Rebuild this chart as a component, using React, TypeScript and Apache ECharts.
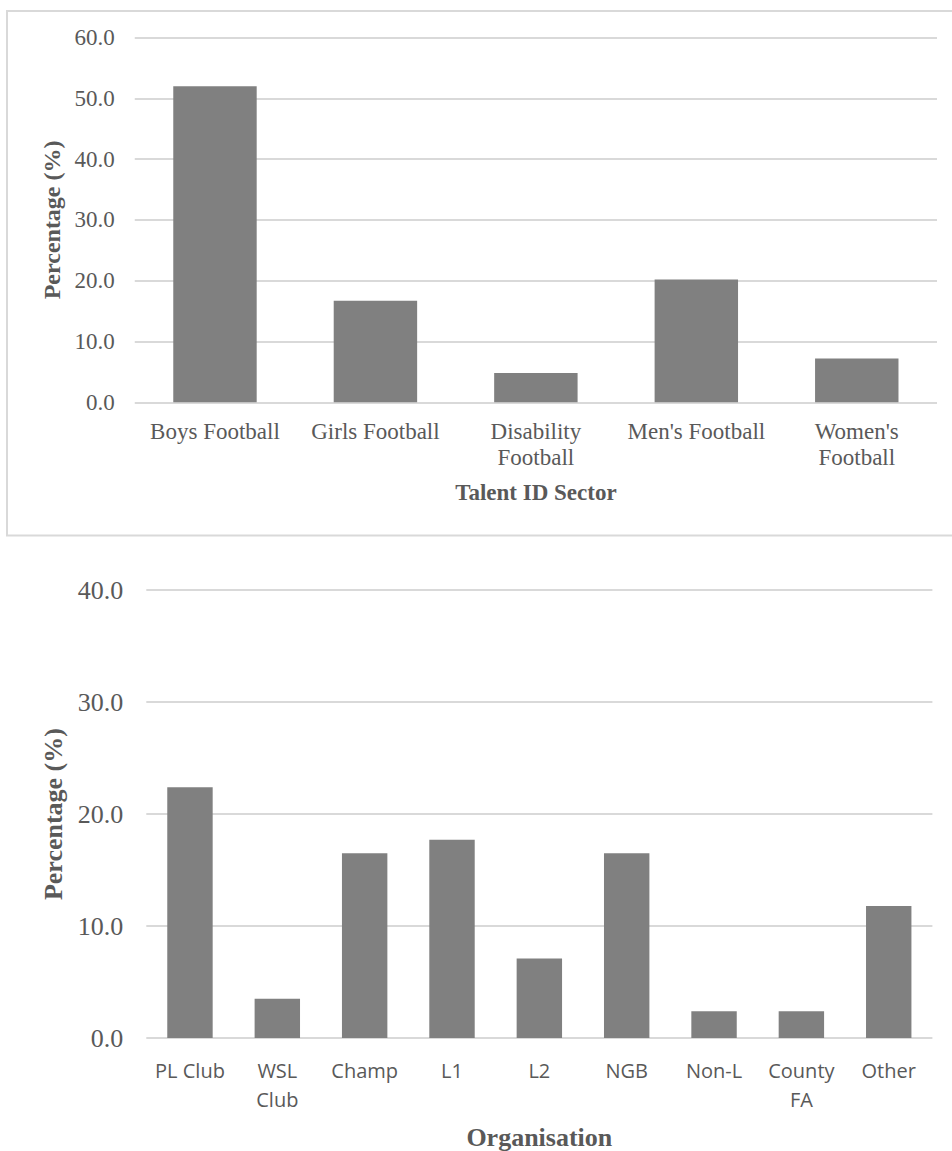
import React, { useEffect, useRef } from "react";
import * as echarts from "echarts";

// Talent ID sector breakdown (upper chart)
const sectorCategories = [
  "Boys Football",
  "Girls Football",
  "Disability\nFootball",
  "Men's Football",
  "Women's\nFootball",
];
const sectorValues = [52.0, 16.7, 4.8, 20.2, 7.2];
const sectorTicks = { min: 0, max: 60, interval: 10 };

// Organisation breakdown (lower chart)
const orgCategories = [
  "PL Club",
  "WSL\nClub",
  "Champ",
  "L1",
  "L2",
  "NGB",
  "Non-L",
  "County\nFA",
  "Other",
];
const orgValues = [22.4, 3.5, 16.5, 17.7, 7.1, 16.5, 2.4, 2.4, 11.8];
const orgTicks = { min: 0, max: 40, interval: 10 };

const SERIF = "'Liberation Serif', 'Times New Roman', serif";
const SANS = "'Open Sans', 'Liberation Sans', sans-serif";
const TEXT = "#595959";
const GRID = "#d9d9d9";
const BAR = "#808080";

export default function App() {
  const ref = useRef<HTMLDivElement>(null);

  useEffect(() => {
    if (!ref.current) return;
    const chart = echarts.init(ref.current, undefined, { renderer: "svg" });

    const fmt = (v: number) => v.toFixed(1);

    chart.setOption({
      animation: false,
      backgroundColor: "#ffffff",
      grid: [
        { left: 134.75, right: 15, top: 37.5, height: 364.8 },
        { left: 146.3, right: 19.6, top: 590.2, height: 449.3 },
      ],
      xAxis: [
        {
          type: "category",
          gridIndex: 0,
          data: sectorCategories,
          axisTick: { show: false },
          axisLine: { show: false },
          axisLabel: {
            interval: 0,
            margin: 16,
            color: TEXT,
            fontFamily: SERIF,
            fontSize: 23,
            lineHeight: 26,
          },
          name: "Talent ID Sector",
          nameLocation: "middle",
          nameGap: 79,
          nameTextStyle: {
            color: TEXT,
            fontFamily: SERIF,
            fontSize: 23,
            fontWeight: "bold",
          },
        },
        {
          type: "category",
          gridIndex: 1,
          data: orgCategories,
          axisTick: { show: false },
          axisLine: { show: false },
          axisLabel: {
            interval: 0,
            margin: 18,
            color: TEXT,
            fontFamily: SANS,
            fontSize: 20,
            lineHeight: 29,
          },
          name: "Organisation",
          nameLocation: "middle",
          nameGap: 86,
          nameTextStyle: {
            color: TEXT,
            fontFamily: SERIF,
            fontSize: 26,
            fontWeight: "bold",
          },
        },
      ],
      yAxis: [
        {
          type: "value",
          gridIndex: 0,
          ...sectorTicks,
          axisLabel: {
            formatter: fmt,
            margin: 20,
            color: TEXT,
            fontFamily: SERIF,
            fontSize: 23,
          },
          splitLine: { lineStyle: { color: GRID, width: 2 } },
          name: "Percentage (%)",
          nameLocation: "middle",
          nameRotate: 90,
          nameGap: 70,
          nameTextStyle: {
            color: TEXT,
            fontFamily: SERIF,
            fontSize: 24,
            fontWeight: "bold",
          },
        },
        {
          type: "value",
          gridIndex: 1,
          ...orgTicks,
          axisLabel: {
            formatter: fmt,
            margin: 23,
            color: TEXT,
            fontFamily: SERIF,
            fontSize: 26,
          },
          splitLine: { lineStyle: { color: GRID, width: 2 } },
          name: "Percentage (%)",
          nameLocation: "middle",
          nameRotate: 90,
          nameGap: 78,
          nameTextStyle: {
            color: TEXT,
            fontFamily: SERIF,
            fontSize: 26,
            fontWeight: "bold",
          },
        },
      ],
      series: [
        {
          type: "bar",
          xAxisIndex: 0,
          yAxisIndex: 0,
          data: sectorValues,
          barCategoryGap: "48%",
          itemStyle: { color: BAR },
        },
        {
          type: "bar",
          xAxisIndex: 1,
          yAxisIndex: 1,
          data: orgValues,
          barCategoryGap: "48%",
          itemStyle: { color: BAR },
        },
      ],
      graphic: [
        {
          type: "rect",
          shape: { x: 7, y: 11, width: 960, height: 524.5 },
          style: { fill: "none", stroke: GRID, lineWidth: 2 },
          silent: true,
          z: -1,
        },
      ],
    });

    return () => chart.dispose();
  }, []);

  return (
    <div
      ref={ref}
      style={{ position: "absolute", left: 0, top: 0, width: 952, height: 1151 }}
    />
  );
}
